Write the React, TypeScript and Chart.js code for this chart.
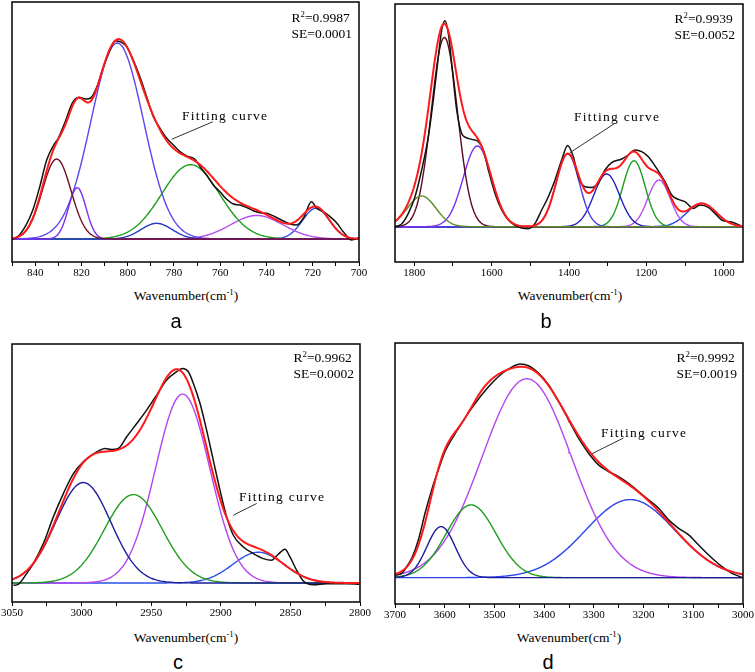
import React, { useEffect, useRef } from "react";
import { Chart, registerables } from "chart.js";

Chart.register(...registerables);

// ---------- Panel a (700–850 cm-1) ----------
const aWave = [850, 848, 844, 841, 838, 835, 832, 830, 827, 824, 821, 818, 816, 813, 810.5, 807.6, 805.5, 802.6, 800.4, 797.6, 794.7, 791.8, 788.9, 786, 783.1, 780.3, 777.4, 774.5, 770.9, 768.7, 765.9, 763, 760.1, 757.2, 754.3, 751.4, 747.8, 745.7, 742.8, 739.9, 736.3, 732.7, 729.8, 726.9, 724.1, 720.5, 718.3, 715.4, 712.5, 709.7, 706.8, 703.2, 700];
const aAbs = [0, 0.013, 0.137, 0.29, 0.523, 0.79, 0.937, 1.007, 1.173, 1.357, 1.417, 1.4, 1.41, 1.54, 1.723, 1.89, 1.983, 1.967, 1.923, 1.79, 1.623, 1.423, 1.223, 1.107, 1.007, 0.94, 0.873, 0.83, 0.797, 0.723, 0.64, 0.54, 0.473, 0.397, 0.35, 0.34, 0.307, 0.283, 0.263, 0.257, 0.223, 0.18, 0.15, 0.14, 0.207, 0.373, 0.307, 0.273, 0.223, 0.163, 0.073, -0.01, 0.013];
const aCenters = [830.7, 821.8, 804.5, 787.5, 772.8, 744.2, 718.6];
const aHeights = [0.8, 0.513, 1.96, 0.157, 0.743, 0.235, 0.307];
const aSigmas = [6.2, 3.8, 11.3, 6.7, 12.5, 11.3, 5.8];
const aColors = ["#6e1020", "#7b2cf5", "#5a48f0", "#2238c8", "#1e9e1e", "#b44cf0", "#2a4ee8"];
const aTicks = [850, 840, 830, 820, 810, 800, 790, 780, 770, 760, 750, 740, 730, 720, 710, 700];
const aMajor = [840, 820, 800, 780, 760, 740, 720, 700];
const aLeader = [[763.1, 1.173], [781, 0.997]];

// ---------- Panel b (950–1850 cm-1) ----------
const bWave = [1848.3, 1832.8, 1815.5, 1798.3, 1781, 1763.8, 1750.9, 1737.9, 1729.3, 1720.7, 1712.1, 1701.7, 1690.5, 1677.6, 1667.2, 1651.7, 1634.5, 1621.6, 1608.6, 1591.4, 1574.1, 1556.9, 1539.7, 1522.4, 1505.2, 1487.9, 1470.7, 1453.4, 1436.2, 1419, 1403.4, 1388.8, 1375.9, 1358.6, 1341.4, 1324.1, 1306.9, 1289.7, 1263.8, 1246.6, 1229.3, 1212.1, 1194.8, 1173.3, 1151.7, 1134.5, 1117.2, 1100, 1078.4, 1061.2, 1039.7, 1022.4, 1005.2, 979.3, 953.4];
const bAbs = [0, 0.027, 0.133, 0.3, 0.567, 0.9, 1.267, 1.7, 1.967, 2.06, 1.933, 1.567, 1.167, 0.933, 0.893, 0.873, 0.85, 0.767, 0.567, 0.333, 0.167, 0.067, 0.013, -0.013, -0.02, 0.033, 0.167, 0.3, 0.467, 0.667, 0.813, 0.7, 0.5, 0.4, 0.393, 0.44, 0.567, 0.64, 0.677, 0.717, 0.767, 0.75, 0.7, 0.583, 0.45, 0.317, 0.273, 0.25, 0.183, 0.217, 0.193, 0.133, 0.067, 0.047, 0.007];
const bCenters = [1781, 1722.4, 1637, 1403.4, 1302.6, 1231.9, 1167.2, 1056.9];
const bHeights = [0.307, 1.893, 0.807, 0.727, 0.527, 0.66, 0.467, 0.233];
const bSigmas = [36.6, 34, 36.6, 30, 33, 29, 29, 38];
const bColors = ["#5b8c2a", "#5c0a1e", "#7a30f0", "#4a3ce8", "#2020c0", "#1e9e1e", "#b44cf0", "#2a44e6"];
const bTicks = [1800, 1700, 1600, 1500, 1400, 1300, 1200, 1100, 1000];
const bMajor = [1800, 1600, 1400, 1200, 1000];
const bLeader = [[1281.2, 1.034], [1397.6, 0.74]];

// ---------- Panel c (2800–3050 cm-1) ----------
const cWave = [3049, 3045.5, 3039.5, 3034.7, 3027.5, 3020.3, 3013.1, 3005.9, 2998.8, 2991.6, 2986.8, 2983.2, 2978.4, 2973.6, 2967.6, 2960.4, 2953.3, 2946.1, 2938.9, 2931.7, 2927.4, 2923.3, 2919.7, 2914.9, 2910.2, 2905.4, 2900.6, 2895.8, 2891, 2883.8, 2876.6, 2869.4, 2863.5, 2858.7, 2853.9, 2850.3, 2845.5, 2840.7, 2833.5, 2823.9, 2809.6, 2800.5];
const cAbs = [-0.023, -0.013, 0.093, 0.193, 0.393, 0.66, 0.893, 1.093, 1.21, 1.287, 1.327, 1.343, 1.333, 1.343, 1.46, 1.593, 1.727, 1.877, 2.027, 2.11, 2.143, 2.11, 1.993, 1.793, 1.527, 1.227, 0.927, 0.66, 0.477, 0.36, 0.293, 0.243, 0.227, 0.287, 0.337, 0.26, 0.127, 0.02, -0.017, -0.007, -0.007, -0.013];
const cCenters = [2998.8, 2962.8, 2927.4, 2873];
const cHeights = [1.003, 0.883, 1.887, 0.307];
const cSigmas = [19.8, 20.8, 19.5, 18.3];
const cColors = ["#1c1c9c", "#1e9e1e", "#b444f0", "#2a50e6"];
const cTicks = [3050, 3025, 3000, 2975, 2950, 2925, 2900, 2875, 2850, 2825, 2800];
const cMajor = [3050, 3000, 2950, 2900, 2850, 2800];
const cLeader = [[2874.2, 0.794], [2891, 0.677]];

// ---------- Panel d (3000–3700 cm-1) ----------
const dWave = [3698.7, 3686.6, 3676.5, 3666.4, 3653, 3639.6, 3626.2, 3612.8, 3599.3, 3582.6, 3565.8, 3545.6, 3525.5, 3505.4, 3485.2, 3465.1, 3448.3, 3431.5, 3411.4, 3391.3, 3371.1, 3351, 3330.9, 3310.7, 3290.6, 3270.5, 3250.3, 3230.2, 3210.1, 3189.9, 3169.8, 3149.7, 3129.5, 3109.4, 3089.3, 3069.1, 3042.3, 3022.1, 3002];
const dAbs = [0.027, 0.043, 0.11, 0.193, 0.377, 0.643, 0.877, 1.077, 1.26, 1.41, 1.543, 1.693, 1.827, 1.943, 2.037, 2.103, 2.133, 2.117, 2.043, 1.927, 1.76, 1.577, 1.393, 1.243, 1.127, 1.06, 1.01, 0.943, 0.86, 0.777, 0.693, 0.577, 0.493, 0.427, 0.327, 0.227, 0.11, 0.043, 0.003];
const dCenters = [3607.4, 3547, 3434.9, 3226.8];
const dHeights = [0.51, 0.727, 1.987, 0.78];
const dSigmas = [28.5, 50, 90, 90];
const dColors = ["#1c1c9c", "#1e9e1e", "#b444f0", "#2a44f0"];
const dTicks = [3700, 3650, 3600, 3550, 3500, 3450, 3400, 3350, 3300, 3250, 3200, 3150, 3100, 3050, 3000];
const dMajor = [3700, 3600, 3500, 3400, 3300, 3200, 3100, 3000];
const dLeader = [[3240.7, 1.394], [3304.3, 1.237]];

const stats = [
  { r2: "0.9987", se: "0.0001" },
  { r2: "0.9939", se: "0.0052" },
  { r2: "0.9962", se: "0.0002" },
  { r2: "0.9992", se: "0.0019" },
];
const panelLetters = ["a", "b", "c", "d"];

type PanelDef = {
  wave: number[];
  abs: number[];
  centers: number[];
  heights: number[];
  sigmas: number[];
  colors: string[];
  ticks: number[];
  major: number[];
  leader: number[][];
  xMin: number;
  xMax: number;
  step: number;
  yMin: number;
  yMax: number;
};

const panels: PanelDef[] = [
  { wave: aWave, abs: aAbs, centers: aCenters, heights: aHeights, sigmas: aSigmas, colors: aColors, ticks: aTicks, major: aMajor, leader: aLeader, xMin: 700, xMax: 850, step: 0.5, yMin: -0.23, yMax: 2.37 },
  { wave: bWave, abs: bAbs, centers: bCenters, heights: bHeights, sigmas: bSigmas, colors: bColors, ticks: bTicks, major: bMajor, leader: bLeader, xMin: 950, xMax: 1850, step: 3, yMin: -0.353, yMax: 2.227 },
  { wave: cWave, abs: cAbs, centers: cCenters, heights: cHeights, sigmas: cSigmas, colors: cColors, ticks: cTicks, major: cMajor, leader: cLeader, xMin: 2800, xMax: 3050, step: 1, yMin: -0.19, yMax: 2.387 },
  { wave: dWave, abs: dAbs, centers: dCenters, heights: dHeights, sigmas: dSigmas, colors: dColors, ticks: dTicks, major: dMajor, leader: dLeader, xMin: 3000, xMax: 3700, step: 2, yMin: -0.263, yMax: 2.344 },
];

// layout boxes (canvas placement)
const boxes = [
  { left: 0, top: 0, width: 375, height: 282, pad: { left: 12, right: 16, top: 2, bottom: 0 } },
  { left: 375, top: 0, width: 380, height: 282, pad: { left: 20, right: 12, top: 4, bottom: 0 } },
  { left: 0, top: 330, width: 375, height: 292, pad: { left: 12, right: 15, top: 14, bottom: 0 } },
  { left: 375, top: 330, width: 380, height: 294, pad: { left: 20, right: 12, top: 13, bottom: 0 } },
];

const gauss = (x: number, c: number, h: number, s: number) => h * Math.exp(-0.5 * ((x - c) / s) ** 2);

function PanelChart({ p, box }: { p: PanelDef; box: any }) {
  const ref = useRef<HTMLCanvasElement | null>(null);
  useEffect(() => {
    if (!ref.current) return;
    const grid: number[] = [];
    for (let x = p.xMin; x <= p.xMax + 1e-9; x += p.step) grid.push(+x.toFixed(3));
    const comps = p.centers.map((c, i) => grid.map((x) => ({ x, y: gauss(x, c, p.heights[i], p.sigmas[i]) })));
    const fit = grid.map((x, j) => ({ x, y: comps.reduce((s, comp) => s + comp[j].y, 0) }));
    const exp = p.wave.map((x, i) => ({ x, y: p.abs[i] }));

    const datasets: any[] = [
      { data: fit, borderColor: "#ff1a1a", borderWidth: 2, pointRadius: 0, tension: 0 },
      { data: exp, borderColor: "#111111", borderWidth: 1.5, pointRadius: 0, cubicInterpolationMode: "monotone" },
      ...comps.map((d, i) => ({ data: d, borderColor: p.colors[i], borderWidth: 1.4, pointRadius: 0, tension: 0 })),
    ];

    const frame = {
      id: "frame",
      afterDraw(chart: any) {
        const { ctx, chartArea } = chart;
        const { left, top, right, bottom } = chartArea;
        const xs = chart.scales.x;
        const ys = chart.scales.y;
        ctx.save();
        ctx.strokeStyle = "#333333";
        ctx.lineWidth = 1;
        ctx.beginPath();
        ctx.moveTo(xs.getPixelForValue(p.leader[0][0]), ys.getPixelForValue(p.leader[0][1]));
        ctx.lineTo(xs.getPixelForValue(p.leader[1][0]), ys.getPixelForValue(p.leader[1][1]));
        ctx.stroke();
        ctx.strokeStyle = "#000";
        ctx.lineWidth = 1.5;
        ctx.strokeRect(left, top, right - left, bottom - top);
        ctx.restore();
      },
    };

    const chart = new Chart(ref.current, {
      type: "line",
      data: { datasets },
      options: {
        animation: false,
        responsive: false,
        devicePixelRatio: 1,
        layout: { padding: box.pad },
        plugins: { legend: { display: false }, tooltip: { enabled: false } },
        elements: { point: { radius: 0 } },
        scales: {
          x: {
            type: "linear",
            reverse: true,
            min: p.xMin,
            max: p.xMax,
            afterBuildTicks: (s: any) => {
              s.ticks = p.ticks.map((v) => ({ value: v }));
            },
            afterFit: (s: any) => {
              s.height = 20;
            },
            ticks: {
              autoSkip: false,
              maxRotation: 0,
              minRotation: 0,
              padding: 1,
              color: "#000",
              font: { family: "Liberation Serif", size: 11 },
              callback: (v: any) => (p.major.includes(Number(v)) ? String(v) : ""),
            },
            grid: { drawOnChartArea: false, drawTicks: true, tickLength: 4, color: "#000", lineWidth: 1 },
            border: { display: false },
          },
          y: { display: false, min: p.yMin, max: p.yMax },
        },
      } as any,
      plugins: [frame],
    });
    return () => chart.destroy();
  }, []);
  return (
    <canvas
      ref={ref}
      width={box.width}
      height={box.height}
      style={{ position: "absolute", left: box.left, top: box.top, width: box.width, height: box.height }}
    />
  );
}

const textBase: React.CSSProperties = {
  position: "absolute",
  fontFamily: "'Liberation Serif', 'Times New Roman', serif",
  color: "#000",
  whiteSpace: "nowrap",
};

const statPos = [
  { x: 352, y: 10 },
  { x: 735, y: 10.5 },
  { x: 354, y: 350 },
  { x: 737, y: 350 },
];
const fitLabelPos = [
  { x: 182, y: 116 },
  { x: 574, y: 117.3 },
  { x: 239, y: 496.7 },
  { x: 601, y: 432.7 },
];
const titlePos = [
  { x: 186, y: 296 },
  { x: 570, y: 296 },
  { x: 186, y: 638 },
  { x: 569, y: 638 },
];
const letterPos = [
  { x: 176, y: 321 },
  { x: 546, y: 321 },
  { x: 178, y: 662 },
  { x: 548, y: 662 },
];

export default function App() {
  return (
    <div style={{ position: "absolute", left: 0, top: 0, width: 755, height: 672, background: "#fff", overflow: "hidden" }}>
      {panels.map((p, i) => (
        <PanelChart key={i} p={p} box={boxes[i]} />
      ))}
      {stats.map((s, i) => (
        <div
          key={"s" + i}
          style={{ ...textBase, left: statPos[i].x, top: statPos[i].y, transform: "translateX(-100%)", fontSize: 13.5, lineHeight: "16px", textAlign: "left" }}
        >
          <div>
            R<sup style={{ fontSize: "0.65em", lineHeight: 0 }}>2</sup>={s.r2}
          </div>
          <div>SE={s.se}</div>
        </div>
      ))}
      {fitLabelPos.map((q, i) => (
        <div key={"f" + i} style={{ ...textBase, left: q.x, top: q.y, transform: "translateY(-50%)", fontSize: 13.5, lineHeight: 1, letterSpacing: "1.3px" }}>
          Fitting curve
        </div>
      ))}
      {titlePos.map((q, i) => (
        <div key={"t" + i} style={{ ...textBase, left: q.x, top: q.y, transform: "translate(-50%, -50%)", fontSize: 13.5, lineHeight: 1 }}>
          Wavenumber(cm<sup style={{ fontSize: "0.65em", lineHeight: 0 }}>-1</sup>)
        </div>
      ))}
      {letterPos.map((q, i) => (
        <div
          key={"l" + i}
          style={{ ...textBase, fontFamily: "'Liberation Sans', Arial, sans-serif", left: q.x, top: q.y, transform: "translate(-50%, -50%)", fontSize: 20, lineHeight: 1 }}
        >
          {panelLetters[i]}
        </div>
      ))}
    </div>
  );
}
